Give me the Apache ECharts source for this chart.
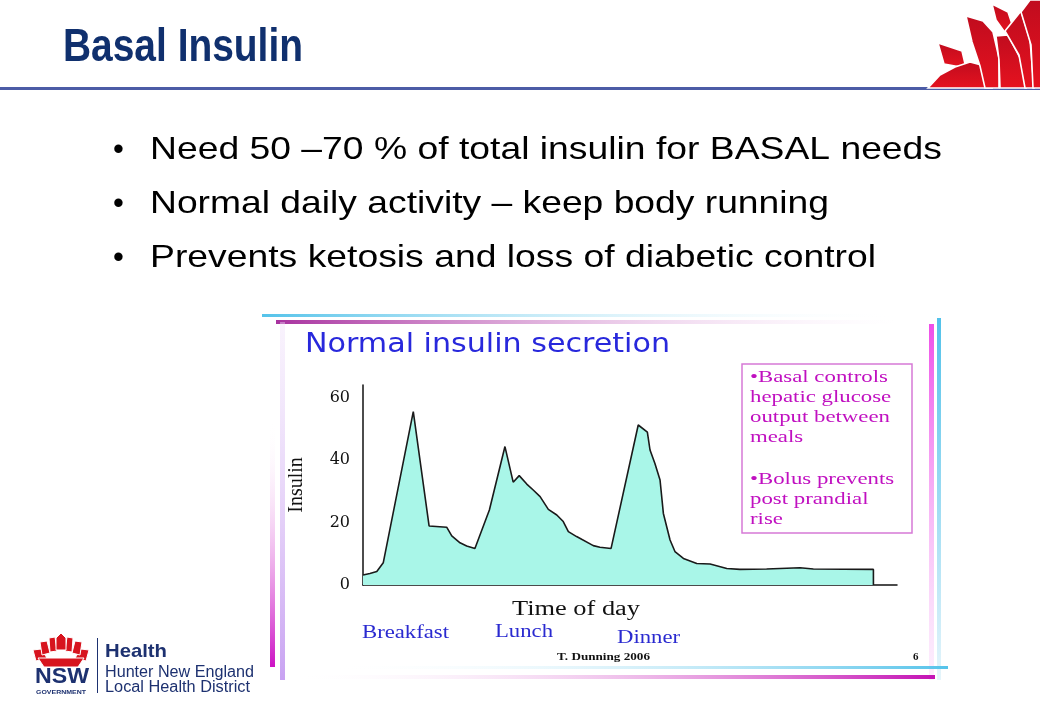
<!DOCTYPE html>
<html>
<head>
<meta charset="utf-8">
<script src="https://cdn.jsdelivr.net/npm/echarts@6/dist/echarts.min.js"></script>
<style>
html,body{margin:0;padding:0;background:#fff;}
#chart{width:1040px;height:720px;}
</style>
</head>
<body>
<div id="chart"></div>
<script>
// ---- data ----
const time = [0, 0.31, 0.62, 0.91, 2.26, 2.97, 3.76, 3.99, 4.36, 4.66, 5.03, 5.68, 6.38, 6.75, 7.02, 7.36, 7.65, 7.96, 8.33, 8.71, 9.0, 9.23, 9.6, 10.35, 10.65, 11.15, 12.37, 12.78, 12.9, 13.12, 13.35, 13.5, 13.8, 14.02, 14.4, 15.0, 15.6, 16.35, 16.94, 18.14, 19.64, 20.24, 22.94, 22.94];
const insulin = [3.2, 3.7, 4.3, 7.1, 55.5, 18.9, 18.5, 15.7, 13.5, 12.5, 11.7, 24, 44.3, 32.9, 35, 32.3, 30.4, 28.3, 24.2, 22.4, 20.3, 17.1, 15.5, 12.6, 12.1, 11.7, 51.2, 48.9, 43.2, 38.9, 33.6, 22.9, 14.4, 10.7, 8.5, 6.9, 6.7, 5.3, 5.0, 5.1, 5.5, 5.1, 5.0, 0];
const yTickValues = [0, 20, 40, 60];
const mealLabels = ['Breakfast', 'Lunch', 'Dinner'];
const bullets = [
  'Need 50 \u201370 % of total insulin for BASAL needs',
  'Normal daily activity \u2013 keep body running',
  'Prevents ketosis and loss of diabetic control'
];
const noteLines = ['\u2022Basal controls', 'hepatic glucose', 'output between', 'meals', '\u2022Bolus prevents', 'post prandial', 'rise'];

// ---- helpers ----
const cv = document.createElement('canvas').getContext('2d');
function fit(text, font, target) { cv.font = font; return target / cv.measureText(text).width; }
function txt(text, x, y, font, fill, target, align, extra) {
  const el = {
    type: 'text', x: x, y: y,
    scaleX: target ? fit(text, font, target) : 1,
    style: { text: text, font: font, fill: fill, textAlign: align || 'left', textVerticalAlign: 'middle' },
    z: 10
  };
  return Object.assign(el, extra || {});
}
function grad(x0, y0, x1, y1, c0, c1) {
  return new echarts.graphic.LinearGradient(x0, y0, x1, y1, [{ offset: 0, color: c0 }, { offset: 1, color: c1 }]);
}
function rect(x, y, w, h, fill) { return { type: 'rect', shape: { x: x, y: y, width: w, height: h }, style: { fill: fill }, z: 5 }; }
function poly(pts, fill, stroke, lw) { return { type: 'polygon', shape: { points: pts }, style: { fill: fill, stroke: stroke || '#fff', lineWidth: lw == null ? 2 : lw }, z: 6 }; }

const red = grad(0, 0, 0, 1, '#c00c1e', '#e6121f');
const navy = '#1d3170';
const g = [];

// title
g.push(txt('Basal Insulin', 63, 48, 'bold 47px "Liberation Sans", Arial, sans-serif', '#10306e', 240));

// top-right waratah
[
  [[938,43],[962,51],[966,68],[944,64]],
  [[928,88],[940,75],[955,67],[970,62],[985,66],[992,88]],
  [[966,16],[983,21],[993,32],[999,58],[999,88],[985,88],[980,66],[972,42]],
  [[992,4],[1008,12],[1013,27],[1006,34],[996,20]],
  [[996,36],[1008,35],[1020,58],[1026,88],[1000,88],[999,60]],
  [[1005,31],[1021,11],[1030,40],[1034,88],[1025,88],[1019,55]],
  [[1021,12],[1030,0],[1042,0],[1042,88],[1033,88],[1031,45]]
].forEach(p => g.push(poly(p, red, '#fff', 1.6)));
g.push(rect(0, 87, 1040, 3, '#4c5ca6'));

// bullets
const bulletY = [150, 204, 258];
const bulletW = [792, 679, 726];
bullets.forEach((b, i) => {
  g.push(txt('\u2022', 113, bulletY[i], '31px "Liberation Sans", Arial, sans-serif', '#000', 0));
  g.push(txt(b, 150, bulletY[i], '32px "Liberation Sans", Arial, sans-serif', '#000', bulletW[i]));
});

// chart frame decorations
g.push(rect(262, 314, 640, 3, grad(0, 0, 1, 0, '#55c3ea', 'rgba(255,255,255,0)')));
g.push(rect(276, 320, 620, 4, grad(0, 0, 1, 0, '#a8329f', 'rgba(245,215,245,0)')));
g.push(rect(929, 324, 5, 356, grad(0, 0, 0, 1, '#ee4fe8', 'rgba(250,215,250,0.4)')));
g.push(rect(937, 318, 4, 362, grad(0, 0, 0, 1, '#52c2ea', '#e6f5fb')));
g.push(rect(280, 322, 5, 358, grad(0, 0, 0, 1, 'rgba(240,225,250,0.4)', '#c8a2f2')));
g.push(rect(270, 420, 5, 247, grad(0, 0, 0, 1, 'rgba(255,255,255,0)', '#cc12c4')));
g.push(rect(330, 666, 618, 3, grad(0, 0, 1, 0, 'rgba(255,255,255,0)', '#55c3ea')));
g.push(rect(290, 675, 645, 4, grad(0, 0, 1, 0, 'rgba(255,255,255,0)', '#c412b4')));

// chart texts
g.push(txt('Normal insulin secretion', 305, 345, '26px "DejaVu Sans", Verdana, sans-serif', '#2828dc', 365));
g.push(txt('Insulin', 297, 485, '20px "Liberation Serif", serif', '#111', 0, 'center', { rotation: Math.PI / 2 }));
g.push(txt('Time of day', 512, 610, '20px "Liberation Serif", serif', '#111', 128));
const mealX = [362, 495, 617], mealY = [633, 632, 638], mealW = [87, 58, 63];
mealLabels.forEach((m, i) => g.push(txt(m, mealX[i], mealY[i], '18px "Liberation Serif", serif', '#2a2ad0', mealW[i])));
g.push(txt('T. Dunning 2006', 557, 657, 'bold 11px "Liberation Serif", serif', '#111', 93));
g.push(txt('6', 913, 657, 'bold 11px "Liberation Serif", serif', '#111', 0));

// annotation box
g.push({ type: 'rect', shape: { x: 742, y: 364, width: 170, height: 169 }, style: { fill: '#fff', stroke: '#d67ad6', lineWidth: 1.5 }, z: 7 });
const noteY = [378, 398, 418, 438, 480, 500, 520];
const noteFont = '17px "Liberation Serif", serif';
const noteScale = fit('output between', noteFont, 140);
noteLines.forEach((l, i) => g.push({
  type: 'text', x: 750, y: noteY[i], scaleX: noteScale,
  style: { text: l, font: noteFont, fill: '#c010c0', textAlign: 'left', textVerticalAlign: 'middle' }, z: 10
}));

// bottom-left NSW logo
[
  [[33,650],[41,649],[47,658],[36,661]],
  [[89,650],[81,649],[75,658],[86,661]],
  [[40,642],[47,641],[50,653],[42,655]],
  [[82,642],[75,641],[72,653],[80,655]],
  [[49,638],[55,637],[57,651],[50,652]],
  [[73,638],[67,637],[65,651],[72,652]],
  [[61,633],[66,638],[66,650],[56,650],[56,638]],
  [[38,658],[84,658],[78,667],[44,667]]
].forEach(p => g.push(poly(p, '#d7141e', '#fff', 1)));
g.push(txt('NSW', 35, 677, 'bold 22px "Liberation Sans", Arial, sans-serif', navy, 54));
g.push(txt('GOVERNMENT', 36, 692, 'bold 6px "Liberation Sans", Arial, sans-serif', navy, 50));
g.push(rect(97, 638, 1, 55, navy));
g.push(txt('Health', 105, 652, 'bold 19px "Liberation Sans", Arial, sans-serif', navy, 62));
g.push(txt('Hunter New England', 105, 673, '16px "Liberation Sans", Arial, sans-serif', navy, 149));
g.push(txt('Local Health District', 105, 688, '16px "Liberation Sans", Arial, sans-serif', navy, 145));

const chart = echarts.init(document.getElementById('chart'));
chart.setOption({
  animation: false,
  backgroundColor: '#fff',
  grid: { left: 363, top: 385, width: 534, height: 200 },
  xAxis: {
    type: 'value', min: 0, max: 24,
    axisLine: { show: true, lineStyle: { color: '#111', width: 1.5 } },
    axisTick: { show: false }, axisLabel: { show: false }, splitLine: { show: false }
  },
  yAxis: {
    type: 'value', min: 0, max: 64, interval: 20,
    axisLine: { show: true, lineStyle: { color: '#111', width: 1.5 } },
    axisTick: { show: false }, splitLine: { show: false },
    axisLabel: {
      showMaxLabel: false, margin: 13, color: '#111', fontFamily: 'DejaVu Serif', fontSize: 16,
      formatter: v => (yTickValues.indexOf(v) >= 0 ? String(v) : '')
    }
  },
  series: [{
    type: 'line', data: time.map((t, i) => [t, insulin[i]]),
    symbol: 'none', lineStyle: { color: '#1a1a1a', width: 1.6 },
    areaStyle: { color: '#a9f6e8', opacity: 1 }, z: 2
  }],
  graphic: g
});
</script>
</body>
</html>
